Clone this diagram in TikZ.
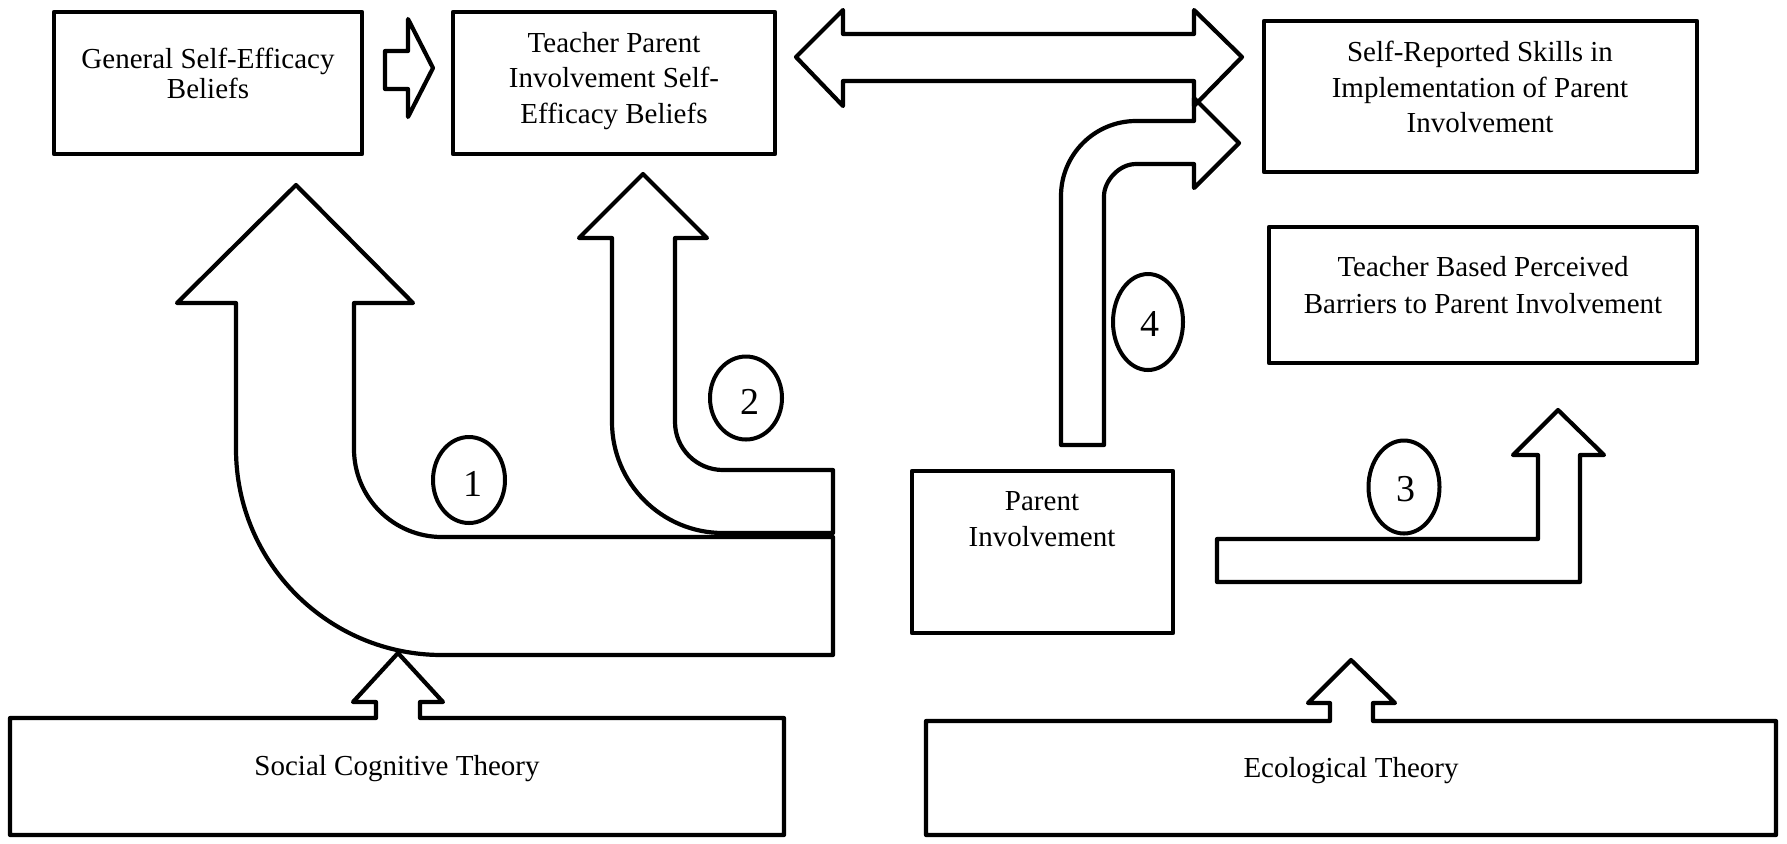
\documentclass[tikz,border=0pt]{standalone}
\usepackage{fontspec}
\setmainfont{Liberation Serif}
\usetikzlibrary{shapes.geometric}
\begin{document}
\begin{tikzpicture}[x=0.5pt,y=-0.5pt,
  outline/.style={draw=black, line width=2.1pt, line join=round},
  boxline/.style={draw=black, line width=2.1pt, line join=round, rectangle, inner sep=0pt},
  ghostbox/.style={draw=none, rectangle, inner sep=0pt},
  txt/.style={font=\fontsize{14.5}{17}\selectfont, anchor=base, inner sep=0pt},
  num/.style={font=\fontsize{19}{22}\selectfont, inner sep=0pt},
  oval/.style={ellipse, draw=black, line width=2pt, fill=white, inner sep=0pt}
]
\useasboundingbox (0,0) rectangle (1787,843);

% ---------- boxes ----------
\node[boxline, minimum width=154pt, minimum height=71pt] (gse) at (208,83) {};
\node[boxline, minimum width=161pt, minimum height=71pt] (tpi) at (614,83) {};
\node[boxline, minimum width=216.5pt, minimum height=75.5pt] (srs) at (1480.5,96.5) {};
\node[boxline, minimum width=214pt, minimum height=68pt] (tbb) at (1483,295) {};
\node[boxline, minimum width=130.5pt, minimum height=81pt] (pin) at (1042.5,552) {};
\node[ghostbox, minimum width=387pt, minimum height=58.5pt] (sct) at (397,776.5) {};
\node[ghostbox, minimum width=425pt, minimum height=57pt] (eco) at (1351,778) {};

% ---------- texts ----------
\node[txt] (gse1) at (208,68) {General Self-Efficacy};
\node[txt] (gse2) at (208,98) {Beliefs};
\node[txt] (tpi1) at (614,52) {Teacher Parent};
\node[txt] (tpi2) at (614,87) {Involvement Self-};
\node[txt] (tpi3) at (614,123) {Efficacy Beliefs};
\node[txt] (srs1) at (1480,61) {Self-Reported Skills in};
\node[txt] (srs2) at (1480,97) {Implementation of Parent};
\node[txt] (srs3) at (1480,132) {Involvement};
\node[txt] (tbb1) at (1483,276) {Teacher Based Perceived};
\node[txt] (tbb2) at (1483,313) {Barriers to Parent Involvement};
\node[txt] (pin1) at (1042,510) {Parent};
\node[txt] (pin2) at (1042,546) {Involvement};
\node[txt] (sct1) at (397,775) {Social Cognitive Theory};
\node[txt] (eco1) at (1351,777) {Ecological Theory};

% ---------- theory boxes with their small up arrows ----------
\draw[outline] (420,718) -- (784,718) -- (784,835) -- (10,835) -- (10,718) -- (376,718)
  -- (376,702) -- (353,702) -- (398,653) -- (443,702) -- (420,702) -- cycle;
\draw[outline] (1373,721) -- (1776,721) -- (1776,835) -- (926,835) -- (926,721) -- (1330,721)
  -- (1330,703) -- (1308,703) -- (1351,660) -- (1395,703) -- (1373,703) -- cycle;

% ---------- small right arrow ----------
\draw[outline] (385,51) -- (408,51) -- (408,19) -- (433,68) -- (408,117) -- (408,89) -- (385,89) -- cycle;

% ---------- double arrow ----------
\draw[outline] (796,57) -- (843,10) -- (843,34) -- (1194,34) -- (1194,10) -- (1242,57)
  -- (1194,106) -- (1194,81) -- (843,81) -- (843,106) -- cycle;

% ---------- arrow 1 ----------
\draw[outline] (296,185) -- (413,303) -- (354,303) -- (354,449)
  .. controls (354,497.6) and (393.4,537) .. (442,537)
  -- (833,537) -- (833,655) -- (442,655)
  .. controls (328.2,655) and (236,562.8) .. (236,449)
  -- (236,303) -- (177,303) -- cycle;

% ---------- arrow 2 ----------
\draw[outline] (643,174) -- (707,238) -- (675,238) -- (675,422)
  .. controls (675,448.5) and (696.5,470) .. (723,470)
  -- (833,470) -- (833,533) -- (723,533)
  .. controls (661.7,533) and (612,483.3) .. (612,422)
  -- (612,238) -- (579,238) -- cycle;

% ---------- arrow 4 ----------
\draw[outline] (1239,143) -- (1194,188) -- (1194,164) -- (1136,164)
  .. controls (1118.3,164) and (1104,181.7) .. (1104,196)
  -- (1104,445) -- (1061,445) -- (1061,196)
  .. controls (1061,154.6) and (1094.6,121) .. (1136,121)
  -- (1194,121) -- (1194,98) -- cycle;

% ---------- arrow 3 ----------
\draw[outline] (1558,410) -- (1604,455) -- (1580,455) -- (1580,582) -- (1217,582)
  -- (1217,539) -- (1538,539) -- (1538,455) -- (1513,455) -- cycle;

% ---------- numbered ovals ----------
\node[oval, minimum width=36pt, minimum height=43pt] (c1) at (469,480) {};
\node[oval, minimum width=36pt, minimum height=41.5pt] (c2) at (746,398) {};
\node[oval, minimum width=35.5pt, minimum height=46.5pt] (c3) at (1404,487) {};
\node[oval, minimum width=35pt, minimum height=48pt] (c4) at (1148,322) {};
\node[num] (n1) at ([xshift=2pt,yshift=-2pt]c1.center) {1};
\node[num] (n2) at ([xshift=2pt,yshift=-2pt]c2.center) {2};
\node[num] (n3) at ([xshift=1pt,yshift=-1pt]c3.center) {3};
\node[num] (n4) at ([xshift=1pt,yshift=-1pt]c4.center) {4};
\end{tikzpicture}
\end{document}
